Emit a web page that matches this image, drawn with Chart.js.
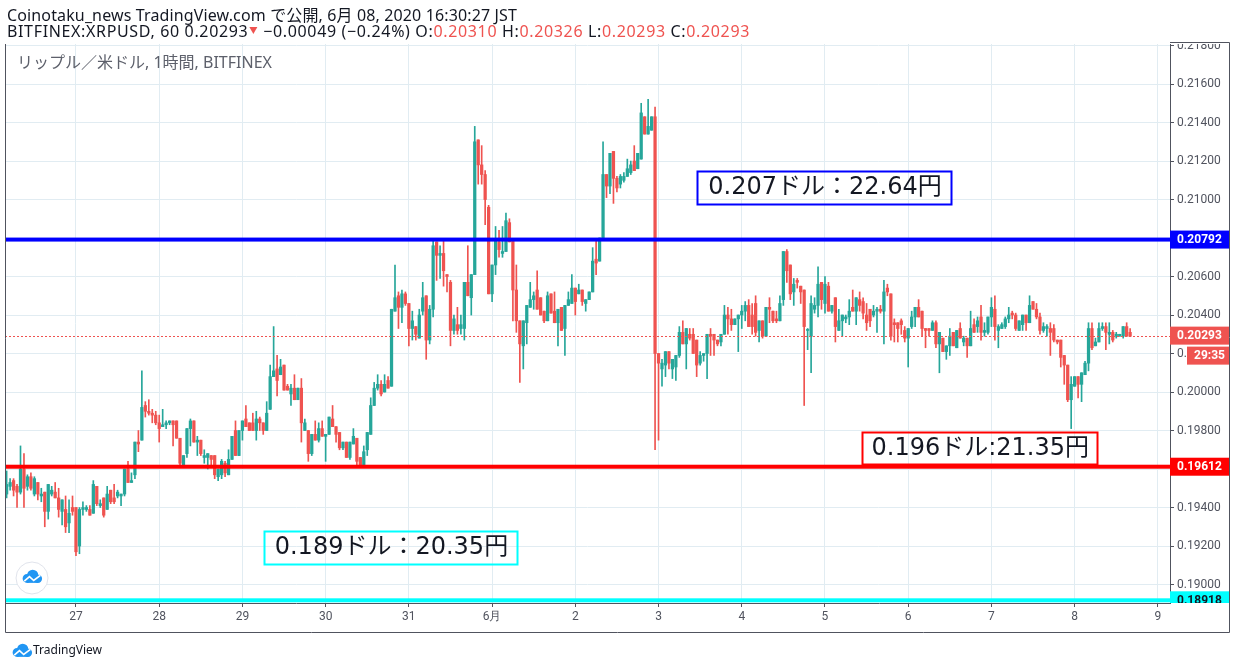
<!DOCTYPE html>
<html>
<head>
<meta charset="utf-8">
<title>XRPUSD 1h</title>
<style>
  html, body { margin: 0; padding: 0; background: #ffffff; }
  #wrap { position: relative; width: 1236px; height: 669px; }
</style>
<script src="https://cdn.jsdelivr.net/npm/chart.js@4.4.1/dist/chart.umd.min.js"></script>
</head>
<body>
<div id="wrap"><canvas id="chart"></canvas></div>
<script>
// hourly candles, prices in units of 0.0001 USD
// hours are counted from 2020-05-27 00:00, first candle is 05-26 04:00
const firstHour = -20;
const PRICE_UNIT = 0.0001;

const opens = [
  1947,1951,1954,1951,1948,1960,1951,1956,1947,1953,1946,1948,1938,1947,1948,1945,1938,1939,1932,1940,1940,1920,1939,1939,1939,
  1937,1951,1941,1945,1939,1949,1945,1946,1946,1947,1960,1953,1957,1974,1975,1993,1990,1989,1988,1984,1982,1983,1984,1985,1985,
  1976,1962,1968,1981,1985,1974,1975,1966,1966,1967,1967,1956,1957,1963,1957,1965,1980,1967,1980,1986,1984,1984,1980,1986,1984,
  1980,1991,2008,2012,2009,2014,2003,1999,2002,1996,2002,1980,1980,1968,1978,1975,1981,1977,1978,1986,1982,1979,1971,1974,1966,
  1973,1976,1966,1962,1970,1978,1993,2002,2004,2000,2006,2003,2042,2050,2044,2051,2046,2033,2034,2028,2042,2050,2027,2043,2078,
  2071,2072,2061,2057,2032,2035,2033,2033,2057,2049,2061,2131,2118,2113,2096,2051,2066,2078,2072,2073,2088,2079,2053,2037,2024,
  2036,2044,2048,2053,2049,2042,2037,2051,2042,2036,2044,2033,2045,2046,2054,2051,2053,2046,2048,2052,2069,2068,2080,2113,2107,
  2125,2111,2108,2110,2112,2114,2120,2116,2121,2143,2134,2136,2143,2020,2012,2014,2021,2012,2013,2019,2031,2025,2030,2030,2027,
  2015,2019,2020,2030,2030,2027,2026,2030,2040,2038,2035,2038,2040,2042,2045,2040,2046,2032,2037,2029,2044,2042,2038,2037,2048,
  2073,2066,2052,2058,2055,2053,2032,2029,2043,2045,2057,2046,2055,2042,2049,2032,2037,2038,2039,2044,2042,2048,2047,2040,2043,
  2040,2042,2043,2042,2054,2051,2036,2036,2037,2032,2028,2034,2039,2044,2042,2033,2033,2032,2036,2025,2028,2021,2024,2031,2023,
  2033,2026,2028,2024,2035,2034,2039,2031,2031,2039,2043,2032,2033,2034,2038,2041,2040,2032,2035,2040,2036,2047,2043,2039,2032,
  2033,2033,2033,2027,2027,2019,2014,1996,2003,2008,2004,2009,2015,2033,2024,2026,2033,2034,2030,2031,2029,2029,2029,2034,2031
];
const highs = [
  1959,1955,1955,1952,1972,1968,1957,1958,1956,1953,1950,1948,1952,1951,1953,1950,1944,1946,1944,1946,1940,1940,1943,1941,1941,
  1954,1951,1944,1945,1951,1949,1952,1949,1947,1960,1964,1958,1974,1980,2011,1995,1996,1991,1990,1988,1991,1985,1985,1985,1985,
  1976,1967,1981,1986,1985,1977,1975,1970,1968,1967,1967,1960,1965,1964,1970,1977,1985,1980,1985,1993,1984,1989,1990,1987,1984,
  1995,2014,2034,2019,2017,2014,2004,2004,2009,2002,2007,1986,1980,1978,1985,1984,1985,1978,1987,1993,1982,1979,1974,1974,1974,
  1981,1976,1966,1972,1979,1997,2005,2009,2006,2009,2008,2043,2066,2052,2053,2052,2046,2042,2034,2043,2057,2050,2045,2079,2078,
  2076,2079,2061,2058,2040,2044,2040,2057,2076,2061,2138,2131,2128,2115,2097,2066,2086,2084,2086,2093,2090,2079,2066,2037,2037,
  2045,2057,2052,2063,2049,2042,2052,2051,2052,2043,2044,2045,2052,2061,2054,2056,2053,2048,2052,2075,2079,2080,2130,2113,2124,
  2125,2112,2113,2114,2121,2120,2128,2124,2150,2143,2152,2143,2148,2020,2017,2021,2021,2017,2019,2034,2037,2033,2033,2033,2027,
  2021,2020,2030,2033,2030,2027,2030,2045,2044,2043,2038,2040,2045,2047,2048,2046,2050,2037,2037,2044,2049,2042,2042,2050,2073,
  2074,2066,2059,2059,2055,2053,2033,2050,2049,2065,2057,2060,2057,2045,2049,2043,2040,2040,2048,2053,2049,2052,2049,2046,2043,
  2045,2044,2045,2058,2056,2051,2038,2036,2038,2034,2033,2042,2044,2048,2042,2033,2033,2037,2037,2031,2028,2024,2033,2031,2032,
  2036,2029,2028,2042,2038,2039,2045,2036,2039,2049,2050,2035,2036,2039,2044,2042,2041,2037,2040,2040,2050,2047,2046,2041,2036,
  2035,2036,2035,2027,2027,2019,2014,2008,2008,2008,2010,2016,2036,2036,2028,2036,2036,2036,2036,2032,2031,2030,2034,2036,2033
];
const lows = [
  1945,1949,1946,1940,1947,1940,1949,1949,1946,1944,1943,1930,1934,1946,1945,1935,1931,1927,1927,1936,1915,1916,1936,1938,1936,
  1937,1941,1940,1935,1939,1942,1942,1945,1941,1946,1953,1953,1955,1969,1975,1987,1988,1984,1983,1974,1982,1981,1983,1972,1976,
  1962,1962,1966,1972,1974,1967,1967,1963,1960,1962,1955,1954,1955,1956,1957,1965,1967,1967,1975,1982,1980,1980,1975,1980,1978,
  1980,1991,2008,1998,2009,2001,2001,1993,1996,1996,1974,1980,1964,1967,1975,1974,1977,1964,1978,1982,1974,1970,1970,1966,1965,
  1973,1962,1962,1962,1967,1978,1993,2001,1998,2000,2002,2003,2042,2033,2036,2045,2024,2027,2027,2028,2040,2017,2025,2039,2058,
  2059,2055,2052,2024,2030,2030,2030,2027,2050,2040,2061,2108,2108,2087,2051,2047,2061,2070,2070,2073,2078,2037,2031,2005,2012,
  2025,2044,2043,2043,2040,2036,2037,2041,2036,2024,2032,2019,2045,2046,2040,2051,2045,2042,2048,2052,2061,2068,2080,2101,2103,
  2098,2104,2106,2109,2112,2113,2115,2116,2121,2134,2134,2136,1970,1975,2003,2008,2012,2007,2006,2018,2025,2012,2027,2020,2008,
  2014,2016,2007,2019,2019,2024,2024,2030,2030,2032,2035,2021,2033,2037,2034,2030,2029,2026,2028,2029,2036,2036,2036,2037,2045,
  2057,2048,2045,2054,2046,1993,2022,2010,2041,2039,2043,2041,2042,2041,2026,2032,2029,2036,2035,2042,2035,2042,2038,2032,2034,
  2039,2031,2041,2025,2050,2027,2026,2026,2030,2026,2013,2033,2034,2039,2029,2023,2029,2032,2023,2010,2021,2017,2019,2024,2023,
  2028,2024,2018,2024,2031,2031,2027,2029,2030,2034,2027,2023,2033,2033,2036,2038,2032,2032,2032,2032,2036,2043,2038,2030,2031,
  2029,2019,2026,2025,2013,2004,1995,1981,2003,1997,1995,2009,2011,2022,2024,2026,2032,2022,2025,2026,2028,2029,2028,2029,2029
];
const closes = [
  1952,1953,1949,1948,1960,1950,1956,1950,1955,1947,1947,1938,1952,1949,1945,1939,1944,1930,1937,1938,1917,1939,1940,1940,1936,
  1952,1942,1942,1936,1947,1943,1943,1948,1947,1960,1953,1954,1974,1973,1992,1990,1989,1988,1984,1981,1983,1984,1985,1983,1976,
  1963,1967,1981,1985,1974,1975,1968,1967,1968,1965,1957,1960,1964,1958,1965,1977,1967,1980,1985,1982,1980,1980,1986,1984,1980,
  1989,2008,2011,2006,2013,2001,2001,2002,1996,2002,1984,1984,1968,1978,1975,1981,1977,1978,1987,1982,1978,1971,1974,1966,1974,
  1977,1964,1962,1969,1979,1993,2002,2004,1999,2004,2002,2043,2049,2044,2051,2046,2033,2037,2030,2040,2049,2027,2043,2076,2071,
  2072,2063,2060,2032,2038,2032,2035,2057,2050,2061,2130,2118,2113,2100,2051,2066,2079,2074,2073,2089,2078,2053,2037,2025,2037,
  2045,2048,2050,2043,2040,2037,2050,2041,2036,2043,2032,2045,2048,2054,2047,2053,2047,2048,2052,2068,2067,2080,2113,2107,2124,
  2111,2106,2112,2112,2116,2118,2115,2124,2145,2134,2138,2143,2020,2015,2015,2021,2015,2017,2019,2031,2025,2033,2028,2020,2014,
  2019,2020,2030,2029,2027,2025,2030,2040,2038,2035,2038,2040,2042,2045,2034,2034,2031,2037,2029,2044,2043,2037,2037,2046,2073,
  2063,2051,2056,2057,2052,2034,2032,2046,2045,2056,2048,2056,2042,2045,2034,2037,2040,2039,2042,2042,2049,2045,2041,2036,2037,
  2042,2043,2042,2052,2052,2029,2035,2033,2035,2028,2033,2039,2044,2039,2033,2032,2032,2036,2025,2031,2021,2024,2029,2024,2032,
  2028,2028,2024,2033,2031,2037,2031,2032,2039,2044,2034,2034,2035,2038,2040,2040,2033,2037,2040,2036,2045,2043,2039,2032,2034,
  2034,2031,2027,2026,2018,2014,1996,2004,2008,2004,2010,2015,2033,2023,2026,2033,2034,2031,2031,2027,2030,2030,2034,2029,2029
];

// x axis: one label per day, at 00:00 of each day (hours 0, 24, 48, ...)
const dayLabels = ['27', '28', '29', '30', '31', '6月', '2', '3', '4', '5', '6', '7', '8', '9'];
// price axis ticks
const priceTicks = [0.190, 0.192, 0.194, 0.196, 0.198, 0.200, 0.202, 0.204, 0.206, 0.208, 0.210, 0.212, 0.214, 0.216, 0.218];

// horizontal levels drawn on the chart
const levelPrices = [0.20792, 0.19612, 0.18918];
const lastPrice = 0.20293;
const countdown = '29:35';

// text notes on the chart
const noteTexts = ['0.207ドル：22.64円', '0.196ドル:21.35円', '0.189ドル：20.35円'];

// header texts
const titleLine = 'Coinotaku_news TradingView.com で公開, 6月 08, 2020 16:30:27 JST';
const quoteParts = [
  ['BITFINEX:XRPUSD, 60 0.20293', 'text'],
  ['▼', 'down'],
  [' −0.00049 (−0.24%) O:', 'text'],
  ['0.20310', 'down'],
  [' H:', 'text'],
  ['0.20326', 'down'],
  [' L:', 'text'],
  ['0.20293', 'down'],
  [' C:', 'text'],
  ['0.20293', 'down']
];
const paneTitle = 'リップル／米ドル, 1時間, BITFINEX';

// ---- styles / layout ----
const UP = '#26a69a';
const DOWN = '#ef5350';
const TEXT = '#131722';
const AXIS = '#50535e';
const GRID = '#e1ecf2';
const levelColors = ['#0000ff', '#ff0000', '#00ffff'];
const levelTextColors = ['#ffffff', '#ffffff', '#131722'];
const notePlaces = [
  { hour: 179.1, price: 0.21150, w: 254, h: 33, color: '#0000ff' },
  { hour: 226.6, price: 0.19794, w: 235, h: 32, color: '#ff0000' },
  { hour: 54.2, price: 0.19280, w: 253, h: 33, color: '#00ffff' }
];
const headerFont = '"Noto Sans", "Noto Sans CJK JP", sans-serif';
const noteFont = '24px "DejaVu Sans", "Noto Sans CJK JP", sans-serif';

const toPrice = v => +(v * PRICE_UNIT).toFixed(4);
const hours = opens.map((_, i) => firstHour + i);
const candleColors = opens.map((o, i) => (closes[i] >= o ? UP : DOWN));
const wickData = hours.map((h, i) => ({ x: h, y: [toPrice(lows[i]), toPrice(highs[i])] }));
const bodyData = hours.map((h, i) => ({ x: h, y: [toPrice(opens[i]), toPrice(closes[i])] }));

function cloudIcon(ctx, cx, cy, s) {
  ctx.save();
  ctx.fillStyle = '#2196f3';
  ctx.beginPath();
  ctx.arc(cx - 0.35 * s, cy + 0.1 * s, 0.32 * s, 0, Math.PI * 2);
  ctx.arc(cx + 0.05 * s, cy - 0.12 * s, 0.4 * s, 0, Math.PI * 2);
  ctx.arc(cx + 0.42 * s, cy + 0.12 * s, 0.3 * s, 0, Math.PI * 2);
  ctx.fill();
  ctx.fillRect(cx - 0.35 * s, cy + 0.05 * s, 0.77 * s, 0.37 * s);
  ctx.strokeStyle = '#ffffff';
  ctx.lineWidth = Math.max(1.2, s * 0.12);
  ctx.beginPath();
  ctx.moveTo(cx - 0.55 * s, cy + 0.3 * s);
  ctx.lineTo(cx - 0.18 * s, cy - 0.02 * s);
  ctx.lineTo(cx + 0.12 * s, cy + 0.25 * s);
  ctx.lineTo(cx + 0.6 * s, cy - 0.12 * s);
  ctx.stroke();
  ctx.restore();
}

function axisTag(ctx, area, y, text, bg, fg, x0) {
  const left = x0 === undefined ? area.right : x0;
  ctx.fillStyle = bg;
  ctx.fillRect(left, y - 9, 1229 - left, 18);
  ctx.fillStyle = fg;
  ctx.font = 'bold 12px Roboto, sans-serif';
  ctx.textBaseline = 'middle';
  ctx.textAlign = 'left';
  ctx.fillText(text, left + 7, y + 0.5);
}

// spread letters so a header line covers the same width as in the original
function fitSpacing(ctx, text, width) {
  ctx.letterSpacing = '0px';
  const natural = ctx.measureText(text).width;
  return Math.max(0, (width - natural) / text.length);
}

const tvPlugin = {
  id: 'tvDecor',
  beforeDatasetsDraw(chart) {
    const ctx = chart.ctx;
    ctx.save();
    ctx.fillStyle = '#5d606b';
    ctx.font = '16px ' + headerFont;
    ctx.textBaseline = 'middle';
    ctx.textAlign = 'left';
    ctx.fillText(paneTitle, 17, 63);
    ctx.restore();
  },
  afterDatasetsDraw(chart) {
    const ctx = chart.ctx;
    const area = chart.chartArea;
    const xs = chart.scales.x;
    const ys = chart.scales.y;
    ctx.save();
    ctx.beginPath();
    ctx.rect(area.left, area.top, area.right - area.left, area.bottom - area.top);
    ctx.clip();

    // last price dotted line
    const yl = Math.round(ys.getPixelForValue(lastPrice)) + 0.5;
    ctx.strokeStyle = DOWN;
    ctx.lineWidth = 1;
    ctx.setLineDash([2, 2]);
    ctx.beginPath();
    ctx.moveTo(area.left, yl);
    ctx.lineTo(area.right, yl);
    ctx.stroke();
    ctx.setLineDash([]);

    // level lines
    levelPrices.forEach((p, i) => {
      const y = ys.getPixelForValue(p);
      ctx.fillStyle = levelColors[i];
      ctx.fillRect(area.left, y - 2, area.right - area.left, 4);
    });

    // notes
    noteTexts.forEach((t, i) => {
      const n = notePlaces[i];
      const x = xs.getPixelForValue(n.hour);
      const y = ys.getPixelForValue(n.price);
      ctx.strokeStyle = n.color;
      ctx.lineWidth = 2;
      ctx.strokeRect(Math.round(x) + 0.5, Math.round(y) + 0.5, n.w, n.h);
      ctx.fillStyle = TEXT;
      ctx.font = noteFont;
      ctx.textBaseline = 'middle';
      ctx.textAlign = 'center';
      ctx.fillText(t, x + n.w / 2 + 1, y + n.h / 2 + 1);
    });

    // round logo inside the pane
    ctx.fillStyle = '#ffffff';
    ctx.strokeStyle = '#e0e3eb';
    ctx.lineWidth = 1;
    ctx.beginPath();
    ctx.arc(32, 578, 16, 0, Math.PI * 2);
    ctx.fill();
    ctx.stroke();
    cloudIcon(ctx, 32, 577, 14);
    ctx.restore();
  },
  afterDraw(chart) {
    const ctx = chart.ctx;
    const area = chart.chartArea;
    const ys = chart.scales.y;
    ctx.save();

    // clear the top of the price scale above the pane
    ctx.fillStyle = '#ffffff';
    ctx.fillRect(area.right + 1, 0, 80, area.top);

    // price scale tags
    ctx.save();
    ctx.beginPath();
    ctx.rect(area.right, area.top, 80, area.bottom - area.top);
    ctx.clip();
    levelPrices.forEach((p, i) => {
      axisTag(ctx, area, ys.getPixelForValue(p), p.toFixed(5), levelColors[i], levelTextColors[i]);
    });
    const yl = ys.getPixelForValue(lastPrice);
    axisTag(ctx, area, yl, lastPrice.toFixed(5), DOWN, '#ffffff');
    axisTag(ctx, area, yl + 20, countdown, DOWN, '#ffffff', 1187);
    ctx.restore();

    // frame
    ctx.strokeStyle = AXIS;
    ctx.lineWidth = 1;
    ctx.beginPath();
    ctx.moveTo(area.left + 0.5, area.top);
    ctx.lineTo(area.left + 0.5, 632.5);
    ctx.lineTo(1229.5, 632.5);
    ctx.lineTo(1229.5, area.top - 1.5);
    ctx.lineTo(area.right, area.top - 1.5);
    ctx.stroke();

    // header
    ctx.textBaseline = 'middle';
    ctx.textAlign = 'left';
    ctx.font = '16px ' + headerFont;
    ctx.fillStyle = TEXT;
    ctx.letterSpacing = fitSpacing(ctx, titleLine, 510) + 'px';
    ctx.fillText(titleLine, 7, 16);

    const allText = quoteParts.filter(p => p[0] !== '▼').map(p => p[0]).join('');
    ctx.letterSpacing = fitSpacing(ctx, allText, 733) + 'px';
    let x = 7;
    quoteParts.forEach(([t, kind]) => {
      ctx.fillStyle = kind === 'down' ? DOWN : TEXT;
      if (t === '▼') {
        ctx.beginPath();
        ctx.moveTo(x + 1, 27);
        ctx.lineTo(x + 9, 27);
        ctx.lineTo(x + 5, 34);
        ctx.closePath();
        ctx.fill();
        x += 10;
        return;
      }
      ctx.fillText(t, x, 32);
      x += ctx.measureText(t).width;
    });
    ctx.letterSpacing = '0px';

    // footer logo
    cloudIcon(ctx, 22, 651, 14);
    ctx.fillStyle = TEXT;
    ctx.font = '12px ' + headerFont;
    ctx.fillText('TradingView', 33, 651);
    ctx.restore();
  }
};

const tickFont = { family: 'Roboto, sans-serif', size: 12 };

new Chart(document.getElementById('chart'), {
  type: 'bar',
  data: {
    datasets: [
      {
        label: 'body',
        data: bodyData,
        backgroundColor: candleColors,
        borderWidth: 0,
        barThickness: 2.6,
        minBarLength: 1,
        grouped: false,
        order: 0
      },
      {
        label: 'wick',
        data: wickData,
        backgroundColor: candleColors,
        borderWidth: 0,
        barThickness: 1,
        grouped: false,
        order: 1
      }
    ]
  },
  options: {
    responsive: true,
    maintainAspectRatio: false,
    animation: false,
    events: [],
    layout: { padding: { left: 5, right: 7, top: 44, bottom: 37 } },
    plugins: {
      legend: { display: false },
      tooltip: { enabled: false }
    },
    scales: {
      x: {
        type: 'linear',
        min: -20.47,
        max: 315.5,
        offset: false,
        afterBuildTicks: s => { s.ticks = dayLabels.map((_, i) => ({ value: i * 24 })); },
        ticks: {
          autoSkip: false,
          maxRotation: 0,
          padding: 3,
          color: AXIS,
          font: tickFont,
          callback: (v, i) => dayLabels[i]
        },
        grid: { color: GRID, tickColor: AXIS, tickLength: 4, offset: false },
        border: { color: AXIS },
        afterFit: s => { s.height = 29; }
      },
      y: {
        position: 'right',
        min: 0.18904,
        max: 0.21808,
        afterBuildTicks: s => { s.ticks = priceTicks.map(v => ({ value: v })); },
        ticks: {
          autoSkip: false,
          padding: 3,
          color: AXIS,
          font: tickFont,
          callback: v => v.toFixed(5)
        },
        grid: { color: GRID, tickColor: AXIS, tickLength: 4 },
        border: { color: AXIS },
        afterFit: s => { s.width = 59; }
      }
    }
  },
  plugins: [tvPlugin]
});
</script>
</body>
</html>
